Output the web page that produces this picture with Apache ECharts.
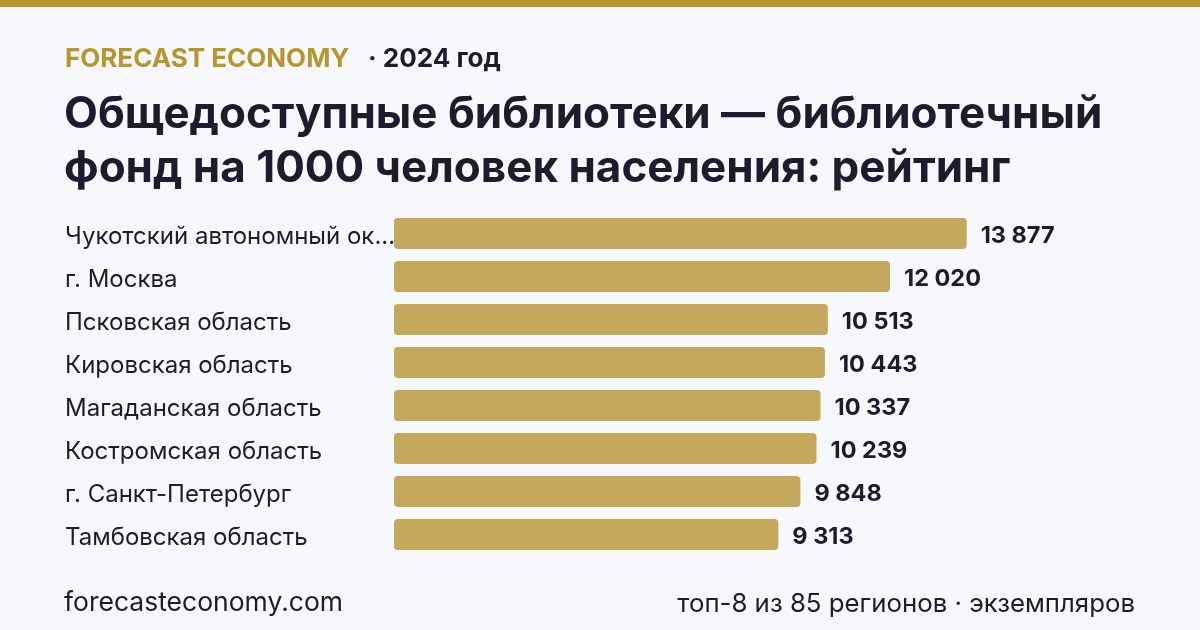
<!DOCTYPE html>
<html lang="ru">
<head>
    <meta charset="UTF-8">
    <title>Библиотечный фонд на 1000 человек</title>
    <script src="https://cdn.jsdelivr.net/npm/echarts@6.0.0/dist/echarts.min.js"></script>
    <style>
        html, body { margin: 0; padding: 0; background: #f7f8fc; }
        #chart { width: 1200px; height: 630px; }
    </style>
</head>
<body>
    <div id="chart"></div>
    <script>
        const regions = [
            'Чукотский автономный округ', 'г. Москва', 'Псковская область', 'Кировская область',
            'Магаданская область', 'Костромская область', 'г. Санкт-Петербург', 'Тамбовская область'
        ];
        const values = [13877, 12020, 10513, 10443, 10337, 10239, 9848, 9313];

        const gold = '#b8962e';
        const dark = '#1c1c2e';
        const font = 'Inter';
        const maxChars = 23;

        function fmt(v) {
            return String(v).replace(/\B(?=(\d{3})+(?!\d))/g, ' ');
        }

        function shorten(name) {
            const s = name.length > maxChars ? name.slice(0, maxChars) + '...' : name;
            return '{n|' + s + '}';
        }

        const chart = echarts.init(document.getElementById('chart'));
        chart.setOption({
            backgroundColor: '#f7f8fc',
            animation: false,
            textStyle: { fontFamily: font },
            title: [
                {
                    text: 'FORECAST ECONOMY',
                    left: 65, top: 46, padding: 0,
                    textStyle: { color: gold, fontSize: 26, fontWeight: 'bold', fontFamily: font }
                },
                {
                    text: '· 2024 год',
                    left: 368, top: 46, padding: 0,
                    textStyle: { color: dark, fontSize: 26, fontWeight: 'bold', fontFamily: font }
                },
                {
                    text: 'Общедоступные библиотеки — библиотечный\nфонд на 1000 человек населения: рейтинг',
                    left: 64, top: 88, padding: 0,
                    textStyle: { color: dark, fontSize: 44, fontWeight: 'bold', lineHeight: 54, fontFamily: font }
                },
                {
                    text: 'forecasteconomy.com',
                    left: 64, top: 590, padding: 0,
                    textStyle: { color: dark, fontSize: 26.5, fontWeight: 'normal', fontFamily: font }
                },
                {
                    text: 'топ-8 из 85 регионов · экземпляров',
                    right: 65, top: 591, padding: 0,
                    textStyle: { color: dark, fontSize: 25.8, fontWeight: 'normal', fontFamily: font }
                }
            ],
            graphic: [
                { type: 'rect', left: 0, top: 0, shape: { width: 1200, height: 7 }, style: { fill: gold } }
            ],
            grid: { left: 394, right: 187, top: 212, height: 344, containLabel: false },
            xAxis: {
                type: 'value', min: 0, max: 15000,
                show: false
            },
            yAxis: {
                type: 'category',
                inverse: true,
                data: regions,
                axisLine: { show: false },
                axisTick: { show: false },
                axisLabel: {
                    align: 'left',
                    margin: 329,
                    formatter: shorten,
                    rich: {
                        n: {
                            color: dark,
                            fontSize: 24,
                            fontFamily: font,
                            padding: [6, 0, 0, 0]
                        }
                    }
                }
            },
            series: [{
                type: 'bar',
                data: values,
                barWidth: 31,
                itemStyle: { color: '#c4a85c', borderRadius: 4 },
                label: {
                    show: true,
                    position: 'right',
                    distance: 14,
                    offset: [0, 2],
                    color: dark,
                    fontSize: 23.5,
                    fontWeight: 'bold',
                    fontFamily: font,
                    formatter: p => fmt(p.value)
                }
            }]
        });
    </script>
</body>
</html>
